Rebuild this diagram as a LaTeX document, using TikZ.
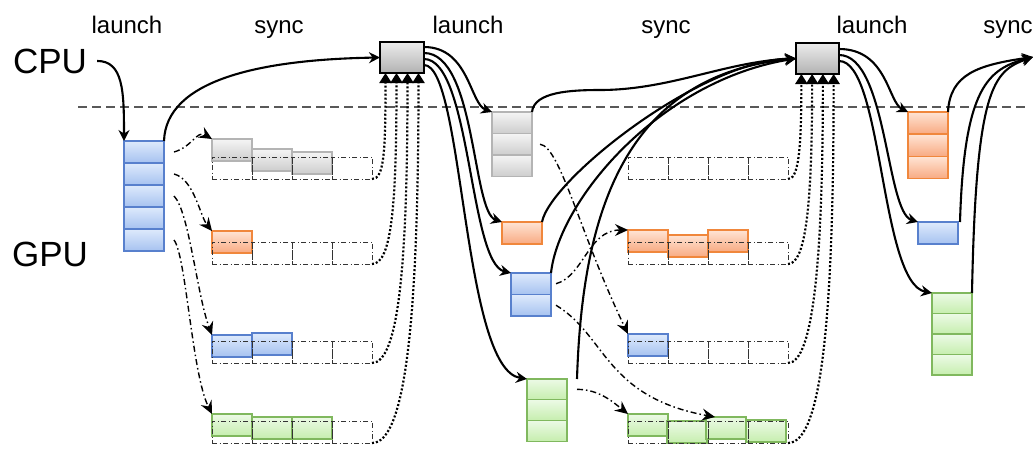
\documentclass[tikz,border=0pt]{standalone}
\usepackage{fontspec}
\setmainfont{Liberation Sans}
\usetikzlibrary{arrows.meta, positioning, calc}

\definecolor{bluetop}{RGB}{222,234,252}
\definecolor{bluebot}{RGB}{166,194,240}
\definecolor{blueline}{RGB}{88,128,205}
\definecolor{orangetop}{RGB}{255,228,212}
\definecolor{orangebot}{RGB}{248,170,130}
\definecolor{orangeline}{RGB}{240,135,60}
\definecolor{greentop}{RGB}{236,250,230}
\definecolor{greenbot}{RGB}{198,238,174}
\definecolor{greenline}{RGB}{128,184,94}
\definecolor{graytop}{RGB}{245,245,245}
\definecolor{graybot}{RGB}{205,205,205}
\definecolor{grayline}{RGB}{180,180,180}
\definecolor{boxtop}{RGB}{236,236,236}
\definecolor{boxbot}{RGB}{178,178,178}

\begin{document}
\begin{tikzpicture}[
    x=1pt, y=-1pt,
    every node/.style={align=center},
    caption/.style={font=\fontsize{24}{28}\selectfont, inner sep=0pt, anchor=base},
    device/.style={font=\fontsize{35}{40}\selectfont, inner sep=2pt, anchor=base},
    qcell/.style={anchor=north west, minimum width=40pt, minimum height=22pt, inner sep=0pt, outer sep=0pt, line width=1.2pt},
    bluecell/.style={qcell, draw=blueline, top color=bluetop, bottom color=bluebot},
    orangecell/.style={qcell, draw=orangeline, top color=orangetop, bottom color=orangebot},
    greencell/.style={qcell, draw=greenline, top color=greentop, bottom color=greenbot},
    graycell/.style={qcell, draw=grayline, top color=graytop, bottom color=graybot},
    slot/.style={anchor=north west, minimum width=40pt, minimum height=22pt, inner sep=0pt, outer sep=0pt, draw=black!80, line width=1pt, dash pattern=on 5pt off 2.5pt on 1pt off 2.5pt},
    syncbox/.style={anchor=north west, minimum width=44pt, minimum height=31pt, inner sep=0pt, outer sep=0pt, draw=black, line width=1.4pt, top color=boxtop, bottom color=boxbot},
    sepline/.style={draw=black!65, line width=1.5pt, dash pattern=on 9pt off 5pt},
    arrow/.style={line width=2.1pt, -{Stealth[length=11pt,width=11pt]}},
    dispatch/.style={line width=1.4pt, dash pattern=on 6pt off 3pt on 1.5pt off 3pt, -{Stealth[length=13pt,width=12pt,inset=4.5pt]}},
    syncwait/.style={line width=2.2pt, dash pattern=on 2pt off 2pt, -{Triangle[length=10pt,width=12pt]}}
]
\useasboundingbox (0,0) rectangle (1034,448);

% CPU / GPU border
\draw[sepline] (78,107) -- (1027,107);

% Labels
\node[device] (cpu) at (50,73) {CPU};
\node[device] (gpu) at (50,266) {GPU};
\node[caption] (launchA) at (127,33) {launch};
\node[caption] (syncA) at (279,33) {sync};
\node[caption] (launchB) at (468,33) {launch};
\node[caption] (syncB) at (666,33) {sync};
\node[caption] (launchC) at (872,33) {launch};
\node[caption] (syncC) at (1008,33) {sync};

% Launch queues
\foreach \i in {1,...,5} \node[bluecell] (qa\i) at (124,{141+22*(\i-1)}) {};
\foreach \i in {1,2,3} \node[graycell, minimum height=21.5pt] (qg\i) at (492,{112+21.5*(\i-1)}) {};
\node[orangecell] (qo1) at (502,222) {};
\foreach \i in {1,2} \node[bluecell, minimum height=21.5pt] (qb\i) at (511,{273+21.5*(\i-1)}) {};
\foreach \i in {1,2,3} \node[greencell, minimum height=20.7pt] (qv\i) at (527,{379+20.7*(\i-1)}) {};
\foreach \i in {1,2,3} \node[orangecell] (ro\i) at (908,{112+22.3*(\i-1)}) {};
\node[bluecell] (rb1) at (918,222) {};
\foreach \i in {1,...,4} \node[greencell, minimum height=20.5pt] (rv\i) at (932,{293+20.5*(\i-1)}) {};

% Kernels running in the streams
\node[graycell] (kA11) at (212,139) {};
\node[graycell] (kA12) at (252,149) {};
\node[graycell] (kA13) at (292,152) {};
\node[orangecell] (kA21) at (212,231) {};
\node[bluecell] (kA31) at (212,335) {};
\node[bluecell] (kA32) at (252,333) {};
\node[greencell] (kA41) at (212,414) {};
\node[greencell] (kA42) at (252,417) {};
\node[greencell] (kA43) at (292,417) {};
\node[orangecell] (kB21) at (628,230) {};
\node[orangecell] (kB22) at (668,235) {};
\node[orangecell] (kB23) at (708,230) {};
\node[bluecell] (kB31) at (628,334) {};
\node[greencell] (kB41) at (628,414) {};
\node[greencell] (kB42) at (667,421) {};
\node[greencell] (kB43) at (706,417) {};
\node[greencell] (kB44) at (746,420) {};

% Stream slots
\foreach \r/\y in {1/157,2/242,3/341,4/421} {
  \foreach \c in {1,...,4} {
    \node[slot] (sA\r\c) at ({212+40*(\c-1)},\y) {};
    \node[slot] (sB\r\c) at ({628+40*(\c-1)},\y) {};
  }
}

% Sync points
\node[syncbox] (syncboxA) at (380,42) {};
\node[syncbox, minimum width=43pt] (syncboxB) at (796,43) {};
\foreach \k in {1,...,4} {
  \coordinate (tA\k) at ($(syncboxA.south west)!{(2*\k-1)/8}!(syncboxA.south east)$);
  \coordinate (tB\k) at ($(syncboxB.south west)!{(2*\k-1)/8}!(syncboxB.south east)$);
}
\coordinate (syncend) at (1033,57);

% Arrows
\draw[arrow] ([xshift=8pt]cpu.east) .. controls +(26,0) and +(0,-50) .. (qa1.north west);
\draw[arrow] (qa1.north east) .. controls +(2,-61) and +(-120,2) .. (syncboxA.west);

\draw[dispatch] ([xshift=10pt]qa1.east) .. controls +(18,-5) and +(-15,-9) .. (kA11.north west);
\draw[dispatch] ([xshift=10pt]qa2.east) .. controls +(20,5) and +(-12,-15) .. (kA21.north west);
\draw[dispatch] ([xshift=10pt]qa3.east) .. controls +(15,15) and +(-15,-40) .. (kA31.north west);
\draw[dispatch] ([xshift=10pt]qa5.east) .. controls +(12,15) and +(-20,-40) .. (kA41.north west);

\draw[syncwait] (sA14.south east) .. controls +(12,0) and +(0,80) .. (tA1);
\draw[syncwait] (sA24.south east) .. controls +(20,0) and +(0,130) .. (tA2);
\draw[syncwait] (sA34.south east) .. controls +(28,0) and +(0,180) .. (tA3);
\draw[syncwait] (sA44.south east) .. controls +(33,0) and +(0,250) .. (tA4);

\draw[arrow] ([yshift=-5pt]syncboxA.north east) .. controls +(45,0) and +(-22,-8) .. (qg1.north west);
\draw[arrow] ([yshift=-11pt]syncboxA.north east) .. controls +(52,0) and +(-30,-10) .. (qo1.north west);
\draw[arrow] ([yshift=-17pt]syncboxA.north east) .. controls +(47,0) and +(-42,-10) .. (qb1.north west);
\draw[arrow] ([yshift=-23pt]syncboxA.north east) .. controls +(40,0) and +(-65,-10) .. (qv1.north west);

\draw[arrow] (qg1.north east) .. controls +(2,-20) and +(-30,0) .. (600,90) .. controls +(70,0) and +(-70,3) .. (syncboxB.west);
\draw[arrow] (qo1.north east) .. controls +(8,-42) and +(-96,2) .. (syncboxB.west);
\draw[arrow] (qb1.north east) .. controls +(8,-73) and +(-136,22) .. (syncboxB.west);
\draw[arrow] ([xshift=10pt]qv1.north east) .. controls +(5,-158) and +(-176,17) .. (syncboxB.west);

\draw[dispatch] ([xshift=8pt]qg2.east) .. controls +(20,2) and +(-48,-100) .. (kB31.north west);
\draw[dispatch] ([xshift=5pt]qb1.east) .. controls +(28,-8) and +(-40,0) .. (kB21.north west);
\draw[dispatch] ([xshift=5pt]qb2.east) .. controls +(50,30) and +(-110,-20) .. ([xshift=9pt]kB43.north west);
\draw[dispatch] ([xshift=10pt]qv1.east) .. controls +(22,0) and +(-15,-12) .. (kB41.north west);

\draw[syncwait] (sB14.south east) .. controls +(10,0) and +(0,80) .. (tB1);
\draw[syncwait] (sB24.south east) .. controls +(18,0) and +(0,130) .. (tB2);
\draw[syncwait] (sB34.south east) .. controls +(26,0) and +(0,180) .. (tB3);
\draw[syncwait] (sB44.south east) .. controls +(33,0) and +(0,250) .. (tB4);

\draw[arrow] ([yshift=-6pt]syncboxB.north east) .. controls +(48,0) and +(-20,-10) .. (ro1.north west);
\draw[arrow] ([yshift=-12pt]syncboxB.north east) .. controls +(48,0) and +(-32,-10) .. (rb1.north west);
\draw[arrow] ([yshift=-18pt]syncboxB.north east) .. controls +(44,0) and +(-52,-10) .. (rv1.north west);

\draw[arrow] (ro1.north east) .. controls +(2,-38) and +(-55,8) .. (syncend);
\draw[arrow] ([xshift=2pt]rb1.north east) .. controls +(4,-135) and +(-45,12) .. (syncend);
\draw[arrow] (rv1.north east) .. controls +(4,-205) and +(-40,14) .. (syncend);

\end{tikzpicture}
\end{document}
